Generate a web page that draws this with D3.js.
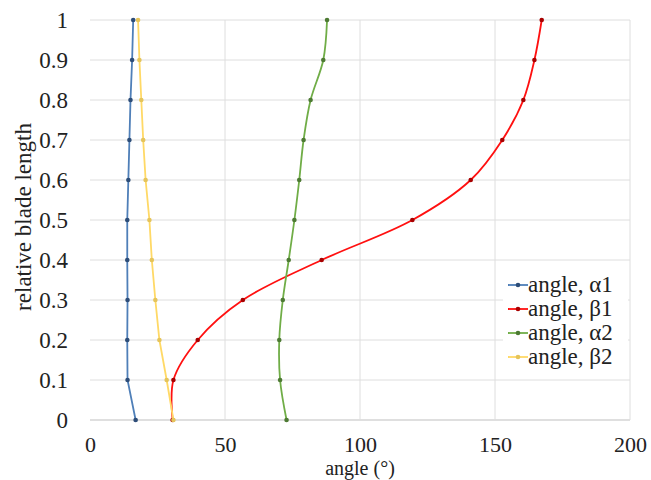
<!DOCTYPE html>
<html>
<head>
<meta charset="utf-8">
<script src="https://cdn.jsdelivr.net/npm/d3@7"></script>
<style>
  html, body { margin: 0; padding: 0; background: #fff; }
</style>
</head>
<body>
<svg id="chart" width="651" height="480"></svg>
<script>
// relative blade length positions (y axis)
const bladeLength = [0, 0.1, 0.2, 0.3, 0.4, 0.5, 0.6, 0.7, 0.8, 0.9, 1];

// angles in degrees along the blade
const alpha1 = [16.9, 13.9, 13.8, 13.9, 13.8, 13.8, 14.2, 14.6, 15.0, 15.6, 16.0];
const beta1  = [30.6, 30.9, 39.9, 56.6, 85.8, 119.4, 141.0, 152.7, 160.5, 164.6, 167.3];
const alpha2 = [72.8, 70.4, 70.1, 71.4, 73.6, 75.7, 77.5, 79.1, 81.7, 86.4, 87.8];
const beta2  = [30.9, 28.4, 25.7, 24.2, 22.9, 22.0, 20.6, 19.7, 19.0, 18.3, 17.8];

const seriesNames = ["angle, \u03b11", "angle, \u03b21", "angle, \u03b12", "angle, \u03b22"];
const seriesValues = [alpha1, beta1, alpha2, beta2];
const lineColors = ["#4f7fb8", "#ff1010", "#70ad47", "#ffd966"];
const markerColors = ["#2d4d78", "#a80000", "#4d7a33", "#e5c45a"];
const smoothed = [false, true, true, false];

const xTicks = [0, 50, 100, 150, 200];
const yTicks = [0, 0.1, 0.2, 0.3, 0.4, 0.5, 0.6, 0.7, 0.8, 0.9, 1];

const FONT = "'Liberation Serif', Tinos, 'Times New Roman', 'DejaVu Serif', serif";
const TEXT_COLOR = "#222";

const margin = { top: 20, right: 21, bottom: 60, left: 90 };
const W = 651, H = 480;
const iw = W - margin.left - margin.right;
const ih = H - margin.top - margin.bottom;

const svg = d3.select("#chart");
const g = svg.append("g").attr("transform", `translate(${margin.left},${margin.top})`);

const x = d3.scaleLinear().domain([0, 200]).range([0, iw]);
const y = d3.scaleLinear().domain([0, 1]).range([ih, 0]);

// gridlines
g.append("g").selectAll("line.h").data(yTicks).join("line")
  .attr("x1", 0).attr("x2", iw)
  .attr("y1", d => y(d)).attr("y2", d => y(d))
  .attr("stroke", d => d === 0 ? "#bfbfbf" : "#dedede").attr("stroke-width", 1);
g.append("g").selectAll("line.v").data(xTicks.slice(1)).join("line")
  .attr("x1", d => x(d)).attr("x2", d => x(d))
  .attr("y1", 0).attr("y2", ih)
  .attr("stroke", "#dedede").attr("stroke-width", 1);

// axes (labels only, no tick marks)
const xAxis = g.append("g").attr("transform", `translate(0,${ih})`)
  .call(d3.axisBottom(x).tickValues(xTicks).tickSize(0).tickPadding(16).tickFormat(d3.format("d")));
xAxis.select(".domain").remove();
xAxis.selectAll("text").style("font-family", FONT).style("font-size", "22px").style("fill", TEXT_COLOR);

const yAxis = g.append("g")
  .call(d3.axisLeft(y).tickValues(yTicks).tickSize(0).tickPadding(22).tickFormat(d => d === 0 || d === 1 ? String(d) : d3.format(".1f")(d)));
yAxis.select(".domain").remove();
yAxis.selectAll("text").style("font-family", FONT).style("font-size", "23px").style("fill", TEXT_COLOR);

// axis titles
svg.append("text")
  .attr("x", margin.left + iw / 2).attr("y", 475)
  .attr("text-anchor", "middle")
  .style("font-family", FONT).style("font-size", "20px").style("fill", TEXT_COLOR)
  .text("angle (\u00b0)");
svg.append("text")
  .attr("transform", `translate(31,${margin.top + ih / 2 - 3}) rotate(-90)`)
  .attr("text-anchor", "middle")
  .style("font-family", FONT).style("font-size", "23px").style("fill", TEXT_COLOR)
  .text("relative blade length");

// series
seriesValues.forEach((vals, i) => {
  const pts = vals.map((v, k) => [v, bladeLength[k]]);
  const line = d3.line()
    .x(d => x(d[0])).y(d => y(d[1]))
    .curve(smoothed[i] ? d3.curveCatmullRom.alpha(0.5) : d3.curveLinear);
  g.append("path").datum(pts)
    .attr("d", line).attr("fill", "none")
    .attr("stroke", lineColors[i]).attr("stroke-width", 1.8);
  g.append("g").selectAll("circle").data(pts).join("circle")
    .attr("cx", d => x(d[0])).attr("cy", d => y(d[1]))
    .attr("r", 2.3).attr("fill", markerColors[i]);
});

// legend
const lg = svg.append("g").attr("transform", "translate(503,271)");
lg.append("rect").attr("x", 0).attr("y", 0).attr("width", 125).attr("height", 100).attr("fill", "#fff");
seriesNames.forEach((name, i) => {
  const yy = 14 + i * 24;
  lg.append("line").attr("x1", 5).attr("x2", 25).attr("y1", yy).attr("y2", yy)
    .attr("stroke", lineColors[i]).attr("stroke-width", 1.8);
  lg.append("circle").attr("cx", 15).attr("cy", yy).attr("r", 2.3).attr("fill", markerColors[i]);
  lg.append("text").attr("x", 25).attr("y", yy).attr("dy", "0.32em")
    .style("font-family", FONT).style("font-size", "23px").style("fill", TEXT_COLOR)
    .text(name);
});
</script>
</body>
</html>
